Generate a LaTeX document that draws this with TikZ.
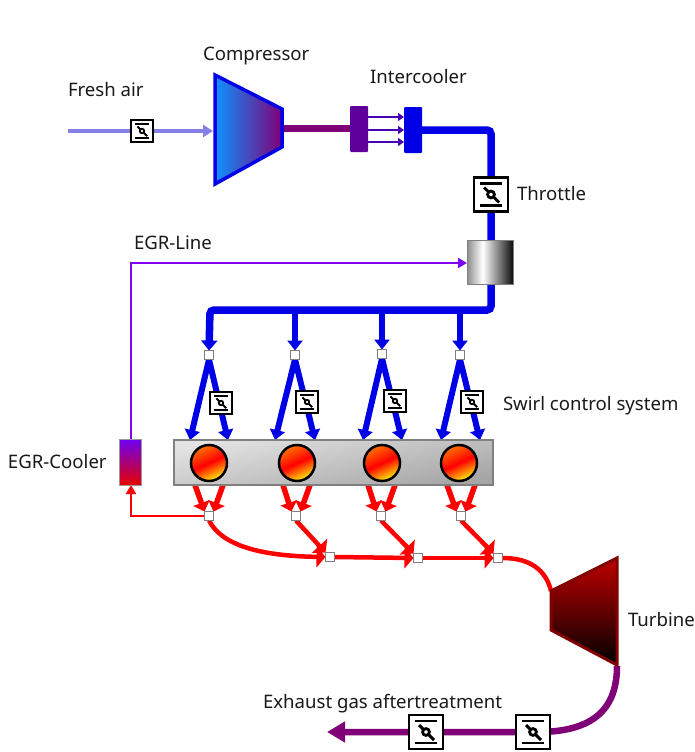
\documentclass[tikz,border=0pt]{standalone}
\usepackage{fontspec}
\setmainfont{Noto Sans}
\usetikzlibrary{arrows.meta,backgrounds}
\definecolor{airc}{HTML}{8480E6}
\definecolor{bluec}{HTML}{0000E6}
\definecolor{purpc}{HTML}{800078}
\definecolor{egrc}{HTML}{8000F0}
\definecolor{redc}{HTML}{FF0000}
\pgfdeclarehorizontalshading{mixshade}{100bp}{color(0bp)=(gray!90);color(25bp)=(gray!90);color(42bp)=(white);color(75bp)=(black!95);color(100bp)=(black!95)}
\tikzset{
 lbl/.style={anchor=base west,inner sep=0pt,outer sep=0pt,font=\fontsize{18.6}{20}\selectfont,text=black!90},
 jn/.style={draw=gray,fill=white,line width=.8pt,minimum size=9pt,inner sep=0pt,outer sep=0pt},
 cyl/.style={circle,draw=black,line width=2.5pt,minimum size=36pt,inner sep=0pt,outer sep=0pt,top color=orange!90!red,bottom color=yellow!90!orange,middle color=red,shading angle=25},
 bluepipe/.style={draw=bluec,line width=6pt,-{Triangle[length=10pt,width=15pt]}},
 redpipe/.style={draw=redc,line width=5.5pt,-{Triangle[length=9pt,width=17pt]}},
 redmain/.style={draw=redc,line width=4.5pt,-{Triangle[length=9pt,width=21pt]}},
 flat/.style={inner sep=0pt,outer sep=0pt},
}
\newcommand{\valvebox}[4]{% name, x, y, size
 \node[draw=black,fill=white,line width=#4/12 pt,minimum size=#4 pt,inner sep=0pt,outer sep=0pt] (#1) at (#2,#3) {};
 \begin{scope}[shift={(#2,#3)},scale=#4/34,line width=#4/15 pt]
  \draw[black] (-11,-11) -- (11,-11);
  \draw[black] (-11,11) -- (11,11);
  \draw[black,line width=#4/12 pt] (-7,-7) -- (8,8);
  \draw[black,fill=white,line width=#4/12 pt] (0,0) circle (3.4);
 \end{scope}}
\begin{document}
\begin{tikzpicture}[x=1pt,y=-1pt]
\useasboundingbox (0,0) rectangle (695,752);
% compressor and turbine
\shadedraw[left color=blue!45!cyan!95!white,right color=purpc,draw=bluec,line width=3.5pt,line join=miter]
  (215,75) -- (282,109) -- (282,147) -- (215,184) -- cycle;
\shadedraw[top color=red!75!black,bottom color=black,draw=red!50!black,line width=3pt,line join=miter]
  (551,591) -- (617,558) -- (617,665) -- (551,630) -- cycle;
\coordinate (airstart) at (68,131);
\coordinate (cmpin) at (213,131);
\coordinate (cmpout) at (283,128);
\coordinate (trbin) at (551,591);
\coordinate (trbout) at (617,666);
\coordinate (exend) at (327,732);
% intercooler
\node[flat,fill=purpc!75!blue,minimum width=18pt,minimum height=46pt,rounded corners=1pt] (icl) at (359,129) {};
\node[flat,fill=bluec,minimum width=18pt,minimum height=46pt,rounded corners=1pt] (icr) at (413,130) {};
\coordinate (corner1) at (491,130);
% mixer
\node[flat,draw=gray,line width=.8pt,shading=mixshade,minimum width=46pt,minimum height=44pt] (mix) at (490,262) {};
\coordinate (corner2) at (491,310);
\coordinate (t1) at (210,310);
\coordinate (t2) at (295,310);
\coordinate (t3) at (382,310);
\coordinate (t4) at (460,310);
% junctions upper
\node[jn] (j1) at (209,355) {};
\node[jn] (j2) at (295,355) {};
\node[jn] (j3) at (382,354) {};
\node[jn] (j4) at (460,355) {};
% engine block
\node[flat,draw=gray,line width=2pt,top color=gray!22,bottom color=gray!70,shading angle=12,minimum width=319pt,minimum height=45pt] (eng) at (333,462.5) {};
\node[cyl] (c1) at (209,463) {};
\node[cyl] (c2) at (297,463) {};
\node[cyl] (c3) at (382,463) {};
\node[cyl] (c4) at (459,463) {};
% egr cooler
\node[flat,draw=black!40,line width=.5pt,top color=egrc!85!blue,bottom color=red!90!black,minimum width=22pt,minimum height=46pt] (cool) at (130,462) {};
\coordinate (egrtop) at (131,263);
\coordinate (egrbot) at (131,516);
% junctions lower
\node[jn] (k1) at (209,516) {};
\node[jn] (k2) at (296,516) {};
\node[jn] (k3) at (381,516) {};
\node[jn] (k4) at (461,516) {};
\node[jn] (m2) at (330,557) {};
\node[jn] (m3) at (418,558) {};
\node[jn] (m4) at (498,558) {};
% branch ends on block
\foreach \n/\x in {a1/190,b1/228,a2/275,b2/315,a3/363,b3/402,a4/441,b4/480}{\coordinate (\n) at (\x,440);}
\foreach \n/\x in {r1/195,s1/223,r2/283,s2/310,r3/368,s3/395,r4/447,s4/475}{\coordinate (\n) at (\x,485);}
% valves
\valvebox{vfresh}{142}{131}{22}
\valvebox{vthr}{491}{194.5}{34}
\valvebox{vs1}{221}{403}{22}
\valvebox{vs2}{307}{402}{22}
\valvebox{vs3}{395}{401}{22}
\valvebox{vs4}{472}{402}{22}
\valvebox{vx1}{426}{732}{34}
\valvebox{vx2}{533}{732}{34}
% labels
\node[lbl] (lfresh) at (68,96) {Fresh air};
\node[lbl] (lcomp) at (203,60) {Compressor};
\node[lbl] (licool) at (370,83) {Intercooler};
\node[lbl] (lthr) at (517,200) {Throttle};
\node[lbl] (legr) at (134,249) {EGR-Line};
\node[lbl] (lswirl) at (503,410) {Swirl control system};
\node[lbl] (lcool) at (8,468) {EGR-Cooler};
\node[lbl] (ltrb) at (628,626) {Turbine};
\node[lbl] (lex) at (263,708) {Exhaust gas aftertreatment};
\begin{pgfonlayer}{background}
 \draw[airc,line width=3.5pt,-{Triangle[length=10pt,width=12pt]}] (airstart) -- (cmpin);
 \draw[purpc,line width=7pt] (cmpout) -- (icl.west |- cmpout);
 \foreach \yy in {117,130,142}{
  \draw[purpc!55!blue,line width=2.2pt,-{Triangle[length=6pt,width=8pt]}] (icl.east |- 0,\yy) -- (icr.west |- 0,\yy);}
 \draw[bluec,line width=7.5pt,rounded corners=4pt,-{Triangle[length=10pt,width=16pt]}] (icr.east |- corner1) -- (corner1) -- (corner2) -- (t1) -- (j1.north);
 \draw[egrc,line width=2.5pt,-{Triangle[length=9pt,width=10pt]}] (cool.north -| egrtop) -- (egrtop) -- (mix.west |- egrtop);
 \draw[redc,line width=2.5pt,-{Triangle[length=9pt,width=10pt]}] (k1.west) -- (egrbot) -- (cool.south -| egrbot);
 \draw[bluepipe] (t2) -- (j2.north);
 \draw[bluepipe] (t3) -- (j3.north);
 \draw[bluepipe] (t4) -- (j4.north);
 \foreach \i in {1,2,3,4}{
  \draw[bluepipe] (j\i.south) -- (a\i);
  \draw[bluepipe] (j\i.south) -- (b\i);
  \draw[redpipe] (r\i) -- (k\i.north west);
  \draw[redpipe] (s\i) -- (k\i.north east);
 }
 \draw[redmain] (k1.south) .. controls (222,546) and (262,556) .. (m2.west);
 \draw[redmain] (k2.south) -- (m2.north west);
 \draw[redmain] (m2.east) -- (m3.west);
 \draw[redmain] (k3.south) -- (m3.north west);
 \draw[redmain] (m3.east) -- (m4.west);
 \draw[redmain] (k4.south) -- (m4.north west);
 \draw[redc,line width=4.5pt] (m4.east) .. controls (530,558) and (546,570) .. (trbin);
 \draw[purpc,line width=6.5pt,-{Triangle[length=18pt,width=20pt]}] (trbout) .. controls (617,712) and (590,733) .. (vx2.center) -- (exend);
\end{pgfonlayer}
\end{tikzpicture}
\end{document}
